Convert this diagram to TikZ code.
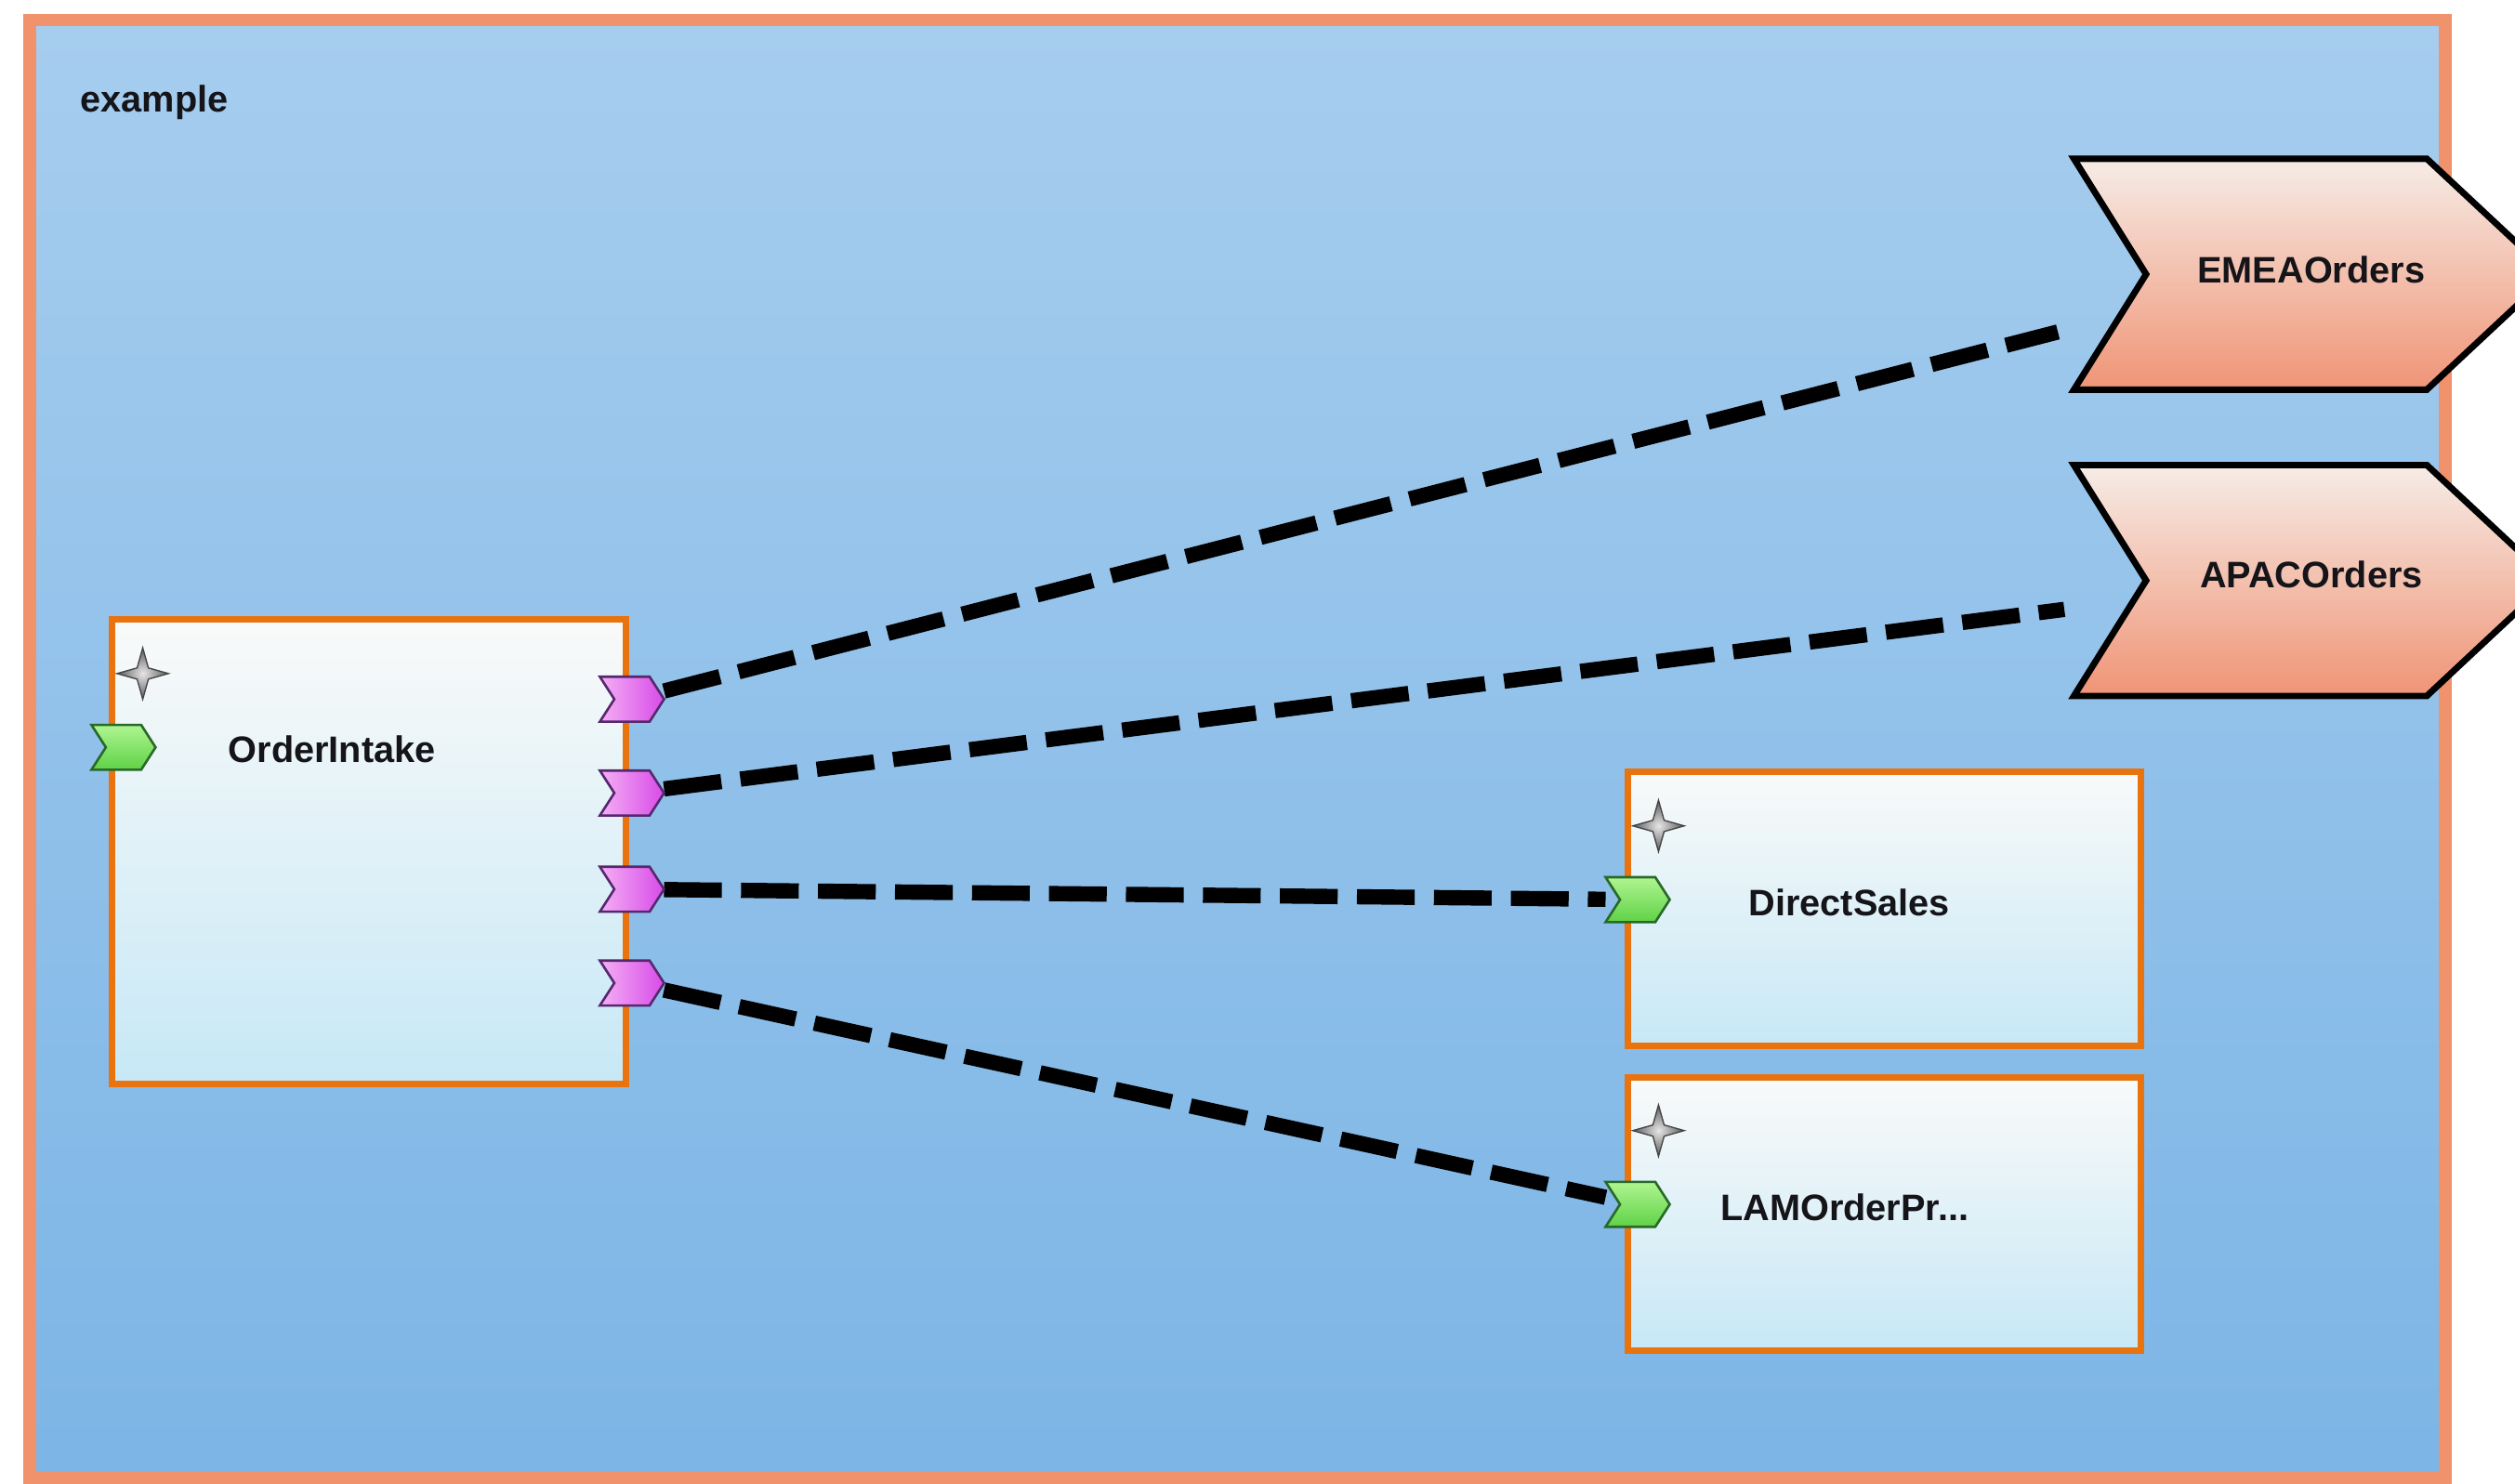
\documentclass[tikz,border=0pt]{standalone}
\usepackage{fontspec}
\setmainfont{Liberation Sans}
\definecolor{frameor}{RGB}{240,146,108}
\definecolor{bgtop}{RGB}{166,205,238}
\definecolor{bgbot}{RGB}{124,181,230}
\definecolor{boxor}{RGB}{232,115,15}
\definecolor{boxtop}{RGB}{249,250,249}
\definecolor{boxbot}{RGB}{199,232,246}
\definecolor{chevtop}{RGB}{246,236,230}
\definecolor{chevbot}{RGB}{240,148,118}
\definecolor{grnA}{RGB}{175,245,145}
\definecolor{grnB}{RGB}{95,210,70}
\definecolor{grnL}{RGB}{40,105,40}
\definecolor{magA}{RGB}{245,175,245}
\definecolor{magB}{RGB}{215,75,232}
\definecolor{magL}{RGB}{85,40,110}
\definecolor{txt}{RGB}{20,20,25}
\begin{document}
\begin{tikzpicture}[x=1pt,y=-1pt,
  lbl/.style={font=\fontsize{23}{27}\selectfont\bfseries, text=txt, inner sep=0pt},
  comp/.style={draw=boxor, line width=4pt, top color=boxtop, bottom color=boxbot, anchor=north west, inner sep=0pt, outer sep=0pt},
  chev/.style={draw=black, line width=4pt, line join=miter, top color=chevtop, bottom color=chevbot},
  conn/.style={draw=black, line width=9.5pt, dash pattern=on 36pt off 12pt, line cap=butt},
  portnode/.style={minimum width=40pt, minimum height=28pt, inner sep=0pt, outer sep=0pt},
  pics/inport/.style={code={\draw[line width=1.5pt, draw=grnL, top color=grnA, bottom color=grnB, line join=miter] (-20,-14) -- (11,-14) -- (20,0) -- (11,14) -- (-20,14) -- (-11,0) -- cycle;}},
  pics/outport/.style={code={\draw[line width=1.5pt, draw=magL, left color=magA, right color=magB, line join=miter] (-20,-14) -- (11,-14) -- (20,0) -- (11,14) -- (-20,14) -- (-11,0) -- cycle;}},
  pics/gearstar/.style={code={\draw[line width=0.8pt, draw=gray!55!black, inner color=gray!20, outer color=gray!70!black] (0,-16) -- (3.5,-3.5) -- (16,0) -- (3.5,3.5) -- (0,16) -- (-3.5,3.5) -- (-16,0) -- (-3.5,-3.5) -- cycle;}}
]
\useasboundingbox (0,0) rectangle (1568,925);
\clip (0,0) rectangle (1568,925);
\fill[white] (0,0) rectangle (1568,925);

% outer frame
\draw[line width=8pt, draw=frameor, top color=bgtop, bottom color=bgbot] (18.5,12.5) rectangle (1524.5,921.5);
\node[lbl, anchor=west] (ex) at (50,64) {example};

% components
\node[comp, minimum width=320pt, minimum height=290pt] (oi) at (70,386) {};
\node[comp, minimum width=320pt, minimum height=171pt] (ds) at (1015,481) {};
\node[comp, minimum width=320pt, minimum height=170pt] (lam) at (1015,672) {};
\node[lbl] (oiL) at (207,467) {OrderIntake};
\node[lbl] (dsL) at (1153,563) {DirectSales};
\node[lbl] (lamL) at (1150,753) {LAMOrderPr...};

% stars
\pic at (89,420) {gearstar};
\pic at (1034,515) {gearstar};
\pic at (1034,705) {gearstar};

% external chevrons
\draw[chev] (1293,99) -- (1513,99) -- (1590,171) -- (1513,243) -- (1293,243) -- (1338,171) -- cycle;
\node[lbl] (emea) at (1441,168) {EMEAOrders};
\draw[chev] (1293,290) -- (1513,290) -- (1590,362) -- (1513,434) -- (1293,434) -- (1338,362) -- cycle;
\node[lbl] (apac) at (1441,358) {APACOrders};
\coordinate (emeaIn) at (1283,207);
\coordinate (apacIn) at (1287,380);

% ports
\node[portnode] (oiIn) at (77,466) {};
\node[portnode] (dsIn) at (1021,561) {};
\node[portnode] (lamIn) at (1021,751) {};
\node[portnode] (o1) at (394,436) {};
\node[portnode] (o2) at (394,494.5) {};
\node[portnode] (o3) at (394,554.5) {};
\node[portnode] (o4) at (394,613) {};

% connectors
\draw[conn] (o1) -- (emeaIn);
\draw[conn] (o2) -- (apacIn);
\draw[conn] (o3) -- (dsIn);
\draw[conn] (o4) -- (lamIn);

% port shapes
\pic at (oiIn) {inport};
\pic at (dsIn) {inport};
\pic at (lamIn) {inport};
\pic at (o1) {outport};
\pic at (o2) {outport};
\pic at (o3) {outport};
\pic at (o4) {outport};
\end{tikzpicture}
\end{document}
